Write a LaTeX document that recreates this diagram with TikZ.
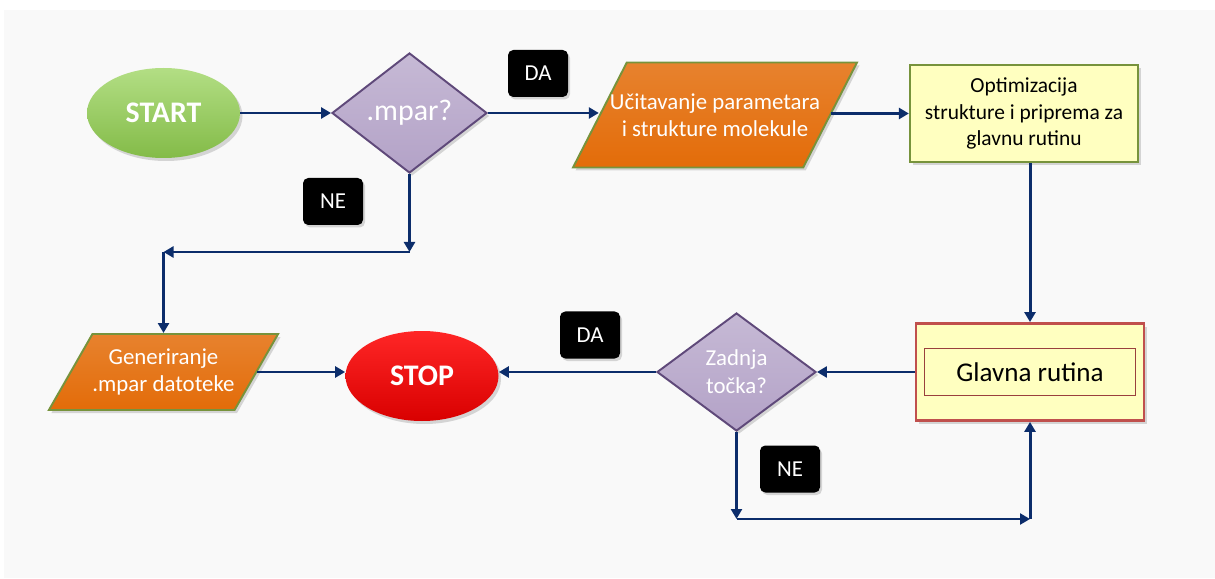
\documentclass[tikz,border=0pt]{standalone}
\usepackage{fontspec}
\setmainfont{Carlito}
\usepackage{tikz}
\usetikzlibrary{arrows.meta,positioning,shapes.geometric,shadows}
\definecolor{navy}{HTML}{0C2D6B}
\definecolor{bggray}{HTML}{F9F9F9}
\definecolor{startgreen}{HTML}{92D050}
\definecolor{stopred}{HTML}{FF0000}
\definecolor{lilac}{HTML}{B3A2C7}
\definecolor{lilacdark}{HTML}{5F497A}
\definecolor{orng}{HTML}{E36C09}
\definecolor{olive}{HTML}{77933C}
\definecolor{paleyel}{HTML}{FFFFC0}
\definecolor{brick}{HTML}{C0504D}
\tikzset{
  shade/.style ={drop shadow={opacity=0.3,shadow xshift=0.5mm,shadow yshift=-0.6mm}},
  term/.style  ={ellipse,shade,minimum width=3.06cm,minimum height=1.8cm,text=white,
                 font=\fontsize{17}{20}\selectfont\bfseries},
  ask/.style   ={diamond,shade,draw=lilacdark,line width=1.1pt,top color=lilac!75,bottom color=lilac,
                 inner sep=0pt,align=center,text=white},
  io/.style    ={trapezium,trapezium stretches body=true,shade,
                 draw=olive,line width=1.1pt,top color=orng!85,bottom color=orng,text=white,align=center,
                 font=\fontsize{13}{15.5}\selectfont},
  work/.style  ={rectangle,shade,fill=paleyel,align=center,minimum width=4.56cm,
                 minimum height=1.94cm},
  tag/.style   ={rounded corners=3pt,fill=black,text=white,minimum width=1.2cm,
                 minimum height=0.94cm,font=\fontsize{13}{15}\selectfont,
                 drop shadow={opacity=0.3,shadow xshift=0.4mm,shadow yshift=-0.5mm}},
  flow/.style  ={-{Triangle[length=2mm,width=2.2mm]},line width=1.7pt,draw=navy}
}
\begin{document}
\begin{tikzpicture}
  \useasboundingbox (0,0) rectangle (24.3,-11.58);
  \fill[bggray] (0.08,-0.2) rectangle (24.3,-11.56);

  % top row
  \node[term,top color=startgreen!70,bottom color=startgreen!90!black] (start) at (3.27,-2.26) {START};
  \node[ask,minimum width=3.10cm,minimum height=2.40cm,font=\fontsize{17}{20}\selectfont] (mpar) at (8.19,-2.26) {.mpar?};
  \node[io,trapezium left angle=61.5,trapezium right angle=118.5,inner ysep=0.56cm,inner xsep=-0.45cm,
        minimum width=5.68cm,minimum height=2.1cm] (load) at (14.30,-2.30)
    {Učitavanje parametara\\i strukture molekule};
  \node[work,draw=olive,line width=1.3pt,font=\fontsize{12.2}{15}\selectfont] (prep) at (20.48,-2.27)
    {Optimizacija\\strukture i priprema za\\glavnu rutinu};

  % bottom row
  \node[work,draw=brick,line width=1.6pt] (main) at (20.60,-7.44) {};
  \node[draw=brick!80!black,line width=0.5pt,minimum width=4.22cm,minimum height=0.94cm,
        font=\fontsize{15.4}{18}\selectfont] (mainin) at (main.center) {Glavna rutina};
  \node[ask,minimum width=3.18cm,minimum height=2.36cm,font=\fontsize{13}{16}\selectfont] (last) at (14.73,-7.44)
    {Zadnja\\točka?};
  \node[term,top color=stopred!85,bottom color=stopred!85!black] (stop) at (8.44,-7.52) {STOP};
  \node[io,trapezium left angle=59.4,trapezium right angle=120.6,inner ysep=0.27cm,inner xsep=0pt,
        minimum width=4.46cm,minimum height=1.52cm] (gen) at (3.27,-7.44)
    {Generiranje\\.mpar datoteke};

  % answer tags
  \node[tag] (da1) at (10.76,-1.47) {DA};
  \node[tag] (ne1) at (6.66,-4.03) {NE};
  \node[tag] (da2) at (11.80,-6.70) {DA};
  \node[tag] (ne2) at (15.80,-9.38) {NE};

  % bends
  \coordinate (nodown) at (mpar.south |- 0,-5.04);
  \coordinate (noleft) at (gen.north |- nodown);
  \coordinate (lastdown) at (last.south |- 0,-10.38);
  \coordinate (lastright) at (main.south |- lastdown);

  % connectors
  \draw[flow] (start) -- (mpar);
  \draw[flow] (mpar) -- (mpar -| load.west);
  \draw[flow] (load.east |- prep.west) -- (prep);
  \draw[flow] (main.north |- prep.south) -- (main);
  \draw[flow] (main) -- (last);
  \draw[flow] (last.west) -- (last.west -| stop.east);
  \draw[flow] (gen.east) -- (gen.east -| stop.west);
  \draw[flow] (mpar.south) -- (nodown);
  \draw[flow] (nodown) -- (noleft);
  \draw[flow] (noleft) -- (gen.north);
  \draw[flow] (last.south) -- (lastdown);
  \draw[flow] (lastdown) -- (lastright);
  \draw[flow] (lastright) -- (main.south);
\end{tikzpicture}
\end{document}
